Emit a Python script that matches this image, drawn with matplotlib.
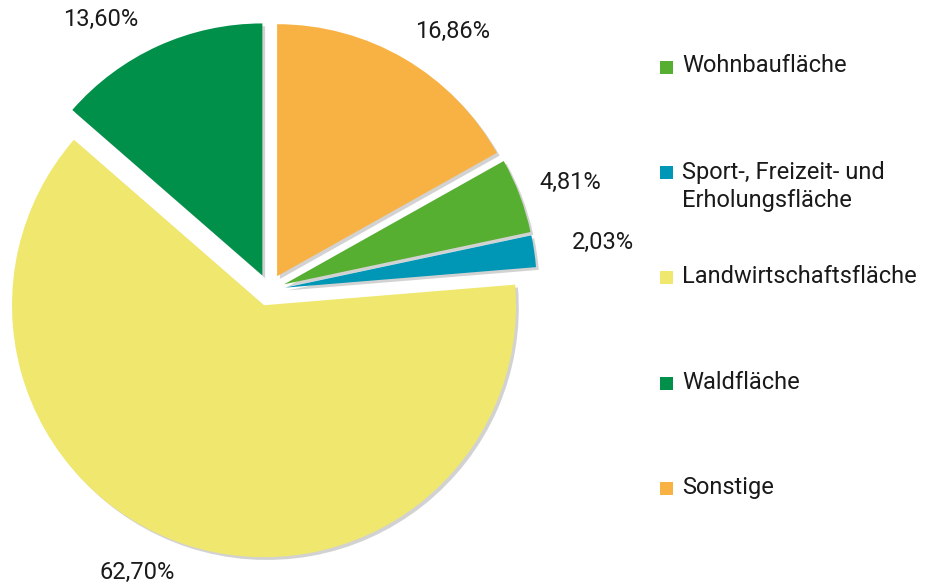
import matplotlib
matplotlib.use("Agg")
import matplotlib.pyplot as plt
from matplotlib.patches import Rectangle
import matplotlib.patheffects as pe

plt.rcParams['font.family'] = ['Roboto', 'DejaVu Sans']

# Data (legend order = clockwise order starting after "Sonstige")
categories = ["Wohnbaufläche", "Sport-, Freizeit- und\nErholungsfläche",
              "Landwirtschaftsfläche", "Waldfläche", "Sonstige"]
values = [4.81, 2.03, 62.70, 13.60, 16.86]
value_labels = ["4,81%", "2,03%", "62,70%", "13,60%", "16,86%"]
colors = ["#57AF31", "#0096B5", "#F0E86E", "#00904A", "#F8B244"]

W, H = 928, 586
fig = plt.figure(figsize=(W / 100, H / 100), dpi=100)
ax = fig.add_axes([0, 0, 1, 1])

cx, cy = 269, H - 290
radius = 252
start = 90 - 360 * values[-1] / sum(values)

wedges, _ = ax.pie(values, colors=colors, startangle=start, counterclock=False,
                   center=(cx, cy), radius=radius, explode=[16] * len(values),
                   wedgeprops=dict(linewidth=0))
for w in wedges:
    w.set_path_effects([pe.SimplePatchShadow(offset=(2, -2), shadow_rgbFace='#808080', alpha=0.35),
                        pe.Normal()])

ax.set_xlim(0, W)
ax.set_ylim(0, H)
ax.set_aspect('equal')
ax.axis('off')

# value labels (pixel positions: centre x, centre y from top)
label_pos = [(570, 182), (603, 242), (137, 572), (101, 19), (453, 31)]
fs = 17
for txt, (x, y) in zip(value_labels, label_pos):
    ax.text(x, H - y, txt, ha='center', va='center', fontsize=fs, color='#1a1a1a')

# legend
sq = 13
line_gap = 29
for i, (lab, col) in enumerate(zip(categories, colors)):
    yc = 67 + i * 105.4
    ax.add_patch(Rectangle((660, H - yc - sq / 2), sq, sq, facecolor=col, edgecolor='none'))
    extra = (lab.count("\n")) * line_gap
    ax.text(682, H - yc - 5.5 - extra, lab, ha='left', va='baseline', fontsize=fs,
            color='#1a1a1a', linespacing=1.25)

fig.savefig("out.png", dpi=100)
